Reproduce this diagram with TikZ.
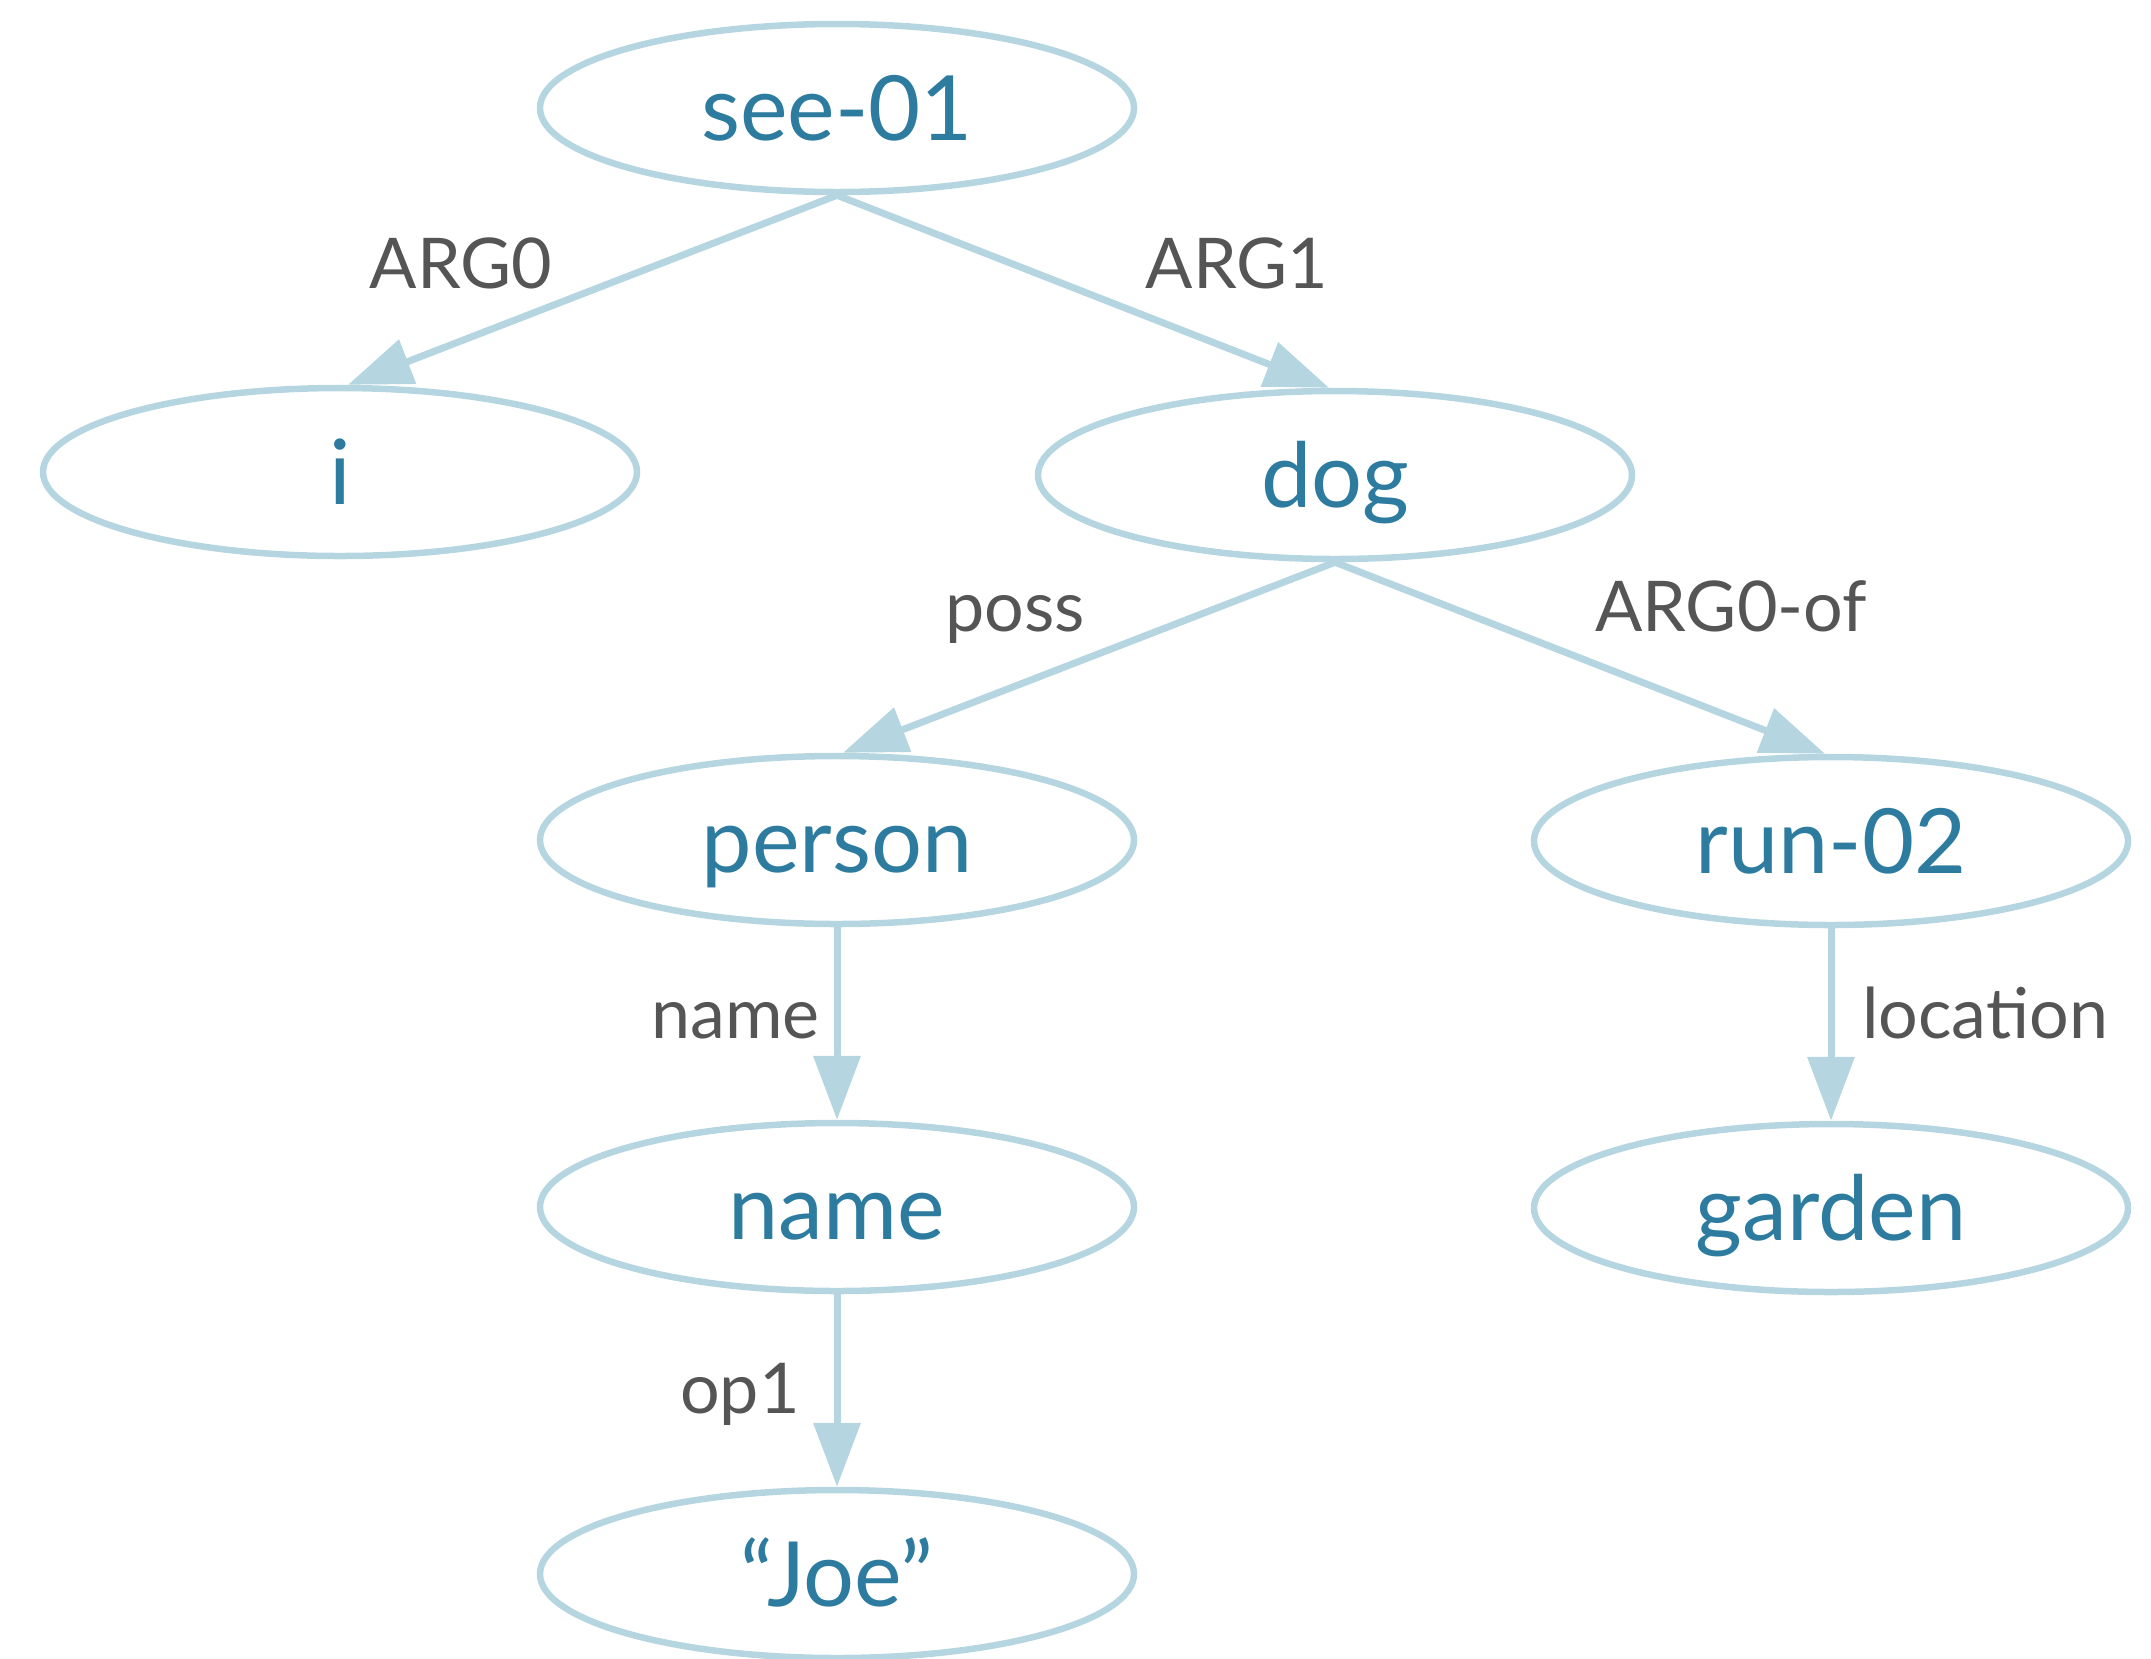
\documentclass[tikz,border=0pt]{standalone}
\usepackage{fontspec}
\setmainfont{Lato}
\usetikzlibrary{shapes.geometric,arrows.meta}
\definecolor{edgeblue}{HTML}{B5D6E0}
\definecolor{nodetext}{HTML}{2D7CA0}
\definecolor{lblgray}{HTML}{555555}
\begin{document}
\begin{tikzpicture}[x=1pt,y=-1pt,
  amrnode/.style={ellipse, draw=edgeblue, line width=6.5pt, minimum width=594pt, minimum height=168pt,
    inner sep=0pt, text=nodetext, font=\fontsize{90}{92}\selectfont, text height=70pt, text depth=6pt},
  lbl/.style={text=lblgray, font=\fontsize{70}{72}\selectfont, inner sep=0pt},
  conn/.style={draw=edgeblue, line width=7pt, -{Triangle[length=64pt,width=46pt]}}]
\useasboundingbox (0,0) rectangle (2151,1658);
\clip (0,0) rectangle (2151,1658);
\node[amrnode] (see) at (837,108) {see-01};
\node[amrnode] (i) at (340,472) {i};
\node[amrnode] (dog) at (1335,475) {dog};
\node[amrnode] (person) at (837,840) {person};
\node[amrnode] (run) at (1831,841) {run-02};
\node[amrnode] (name) at (837,1207) {name};
\node[amrnode] (garden) at (1831,1208) {garden};
\node[amrnode] (joe) at (837,1574) {“Joe”};
\draw[conn] (see.south) -- ([xshift=8pt]i.north);
\draw[conn] (see.south) -- ([xshift=-6pt]dog.north);
\draw[conn] (dog.south) -- ([xshift=6pt]person.north);
\draw[conn] (dog.south) -- ([xshift=-6pt]run.north);
\draw[conn] (person.south) -- (name.north);
\draw[conn] (run.south) -- (garden.north);
\draw[conn] (name.south) -- (joe.north);
\node[lbl, anchor=base] (lARGz) at (461,288) {ARG0};
\node[lbl, anchor=base] (lARGo) at (1237,288) {ARG1};
\node[lbl, anchor=base] (lposs) at (1015,631) {poss};
\node[lbl, anchor=base] (lARGzof) at (1731,631) {ARG0-of};
\node[lbl, anchor=base east] (lname) at (820,1038) {name};
\node[lbl, anchor=base west] (lloc) at (1862,1038) {location};
\node[lbl, anchor=base east] (lop) at (800,1413) {op1};
\end{tikzpicture}
\end{document}
